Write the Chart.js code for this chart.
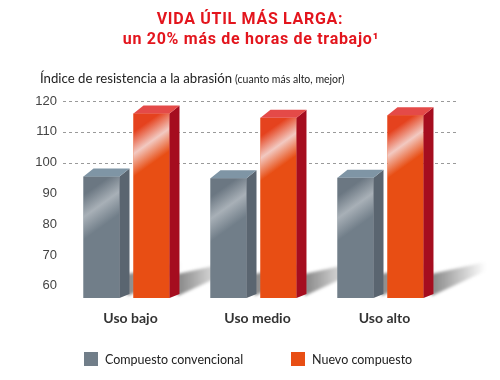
<!DOCTYPE html>
<html><head><meta charset="utf-8">
<script src="https://cdn.jsdelivr.net/npm/chart.js@4/dist/chart.umd.min.js"></script>
<style>html,body{margin:0;padding:0;background:#fff;}#wrap{width:500px;height:380px;position:relative}</style>
</head><body><div id="wrap"><canvas id="c" width="500" height="380"></canvas></div>
<script>
const categories = ['Uso bajo', 'Uso medio', 'Uso alto'];
const seriesNames = ['Compuesto convencional', 'Nuevo compuesto'];
const conventional = [95.5, 94.9, 95.1];
const newCompound = [116.0, 114.6, 115.4];
const yTicks = [60, 70, 80, 90, 100, 110, 120];
const gridValues = [100, 110, 120];
const titleLines = ['VIDA ÚTIL MÁS LARGA:', 'un 20% más de horas de trabajo¹'];
const axisTitle = 'Índice de resistencia a la abrasión';
const axisSubtitle = '(cuanto más alto, mejor)';

const styles = [
  {front: '#717e89', dark: '#6b7782', light: '#a8b0b7', side: '#5a6570', top: '#7f95a5'},
  {front: '#e84e14', dark: '#e5421e', light: '#f2c9c1', side: '#a50d1f', top: '#e44a48'}
];
const DX = 10, DY = -8;

const deco = {
  id: 'deco',
  beforeDatasetsDraw(chart) {
    const ctx = chart.ctx, y = chart.scales.y, a = chart.chartArea;
    ctx.save();
    ctx.strokeStyle = '#9a9a9a'; ctx.lineWidth = 1; ctx.setLineDash([3, 3]);
    gridValues.forEach(v => {
      const py = Math.round(y.getPixelForValue(v)) + 0.5;
      ctx.beginPath(); ctx.moveTo(a.left, py); ctx.lineTo(a.right + 15, py); ctx.stroke();
    });
    ctx.setLineDash([]);
    ctx.filter = 'blur(1.5px)';
    chart.data.datasets.forEach((ds, di) => {
      chart.getDatasetMeta(di).data.forEach(el => {
        const R = el.x + el.width / 2 + DX, b = Math.min(el.base, a.bottom);
        const g = ctx.createLinearGradient(R, 0, R + 52, 0);
        g.addColorStop(0, 'rgba(60,60,60,0.6)');
        g.addColorStop(1, 'rgba(60,60,60,0)');
        ctx.fillStyle = g;
        ctx.beginPath();
        ctx.moveTo(R - 2, b - 2); ctx.lineTo(R - 2, b - 24);
        ctx.lineTo(R + 52, b - 36); ctx.lineTo(R + 52, b - 27);
        ctx.closePath(); ctx.fill();
      });
    });
    ctx.filter = 'none';
    ctx.restore();
  },
  afterDatasetsDraw(chart) {
    const ctx = chart.ctx, a = chart.chartArea;
    ctx.save();
    chart.data.datasets.forEach((ds, di) => {
      const s = styles[di];
      chart.getDatasetMeta(di).data.forEach(el => {
        const L = el.x - el.width / 2, R = el.x + el.width / 2, T = el.y, B = Math.min(el.base, a.bottom);
        const g = ctx.createLinearGradient(L, T, L + 40, T + 56);
        g.addColorStop(0, s.dark);
        g.addColorStop(0.22, s.dark);
        g.addColorStop(0.48, s.light);
        g.addColorStop(0.75, s.front);
        g.addColorStop(1, s.front);
        ctx.fillStyle = g;
        ctx.fillRect(L, T, R - L, B - T);
        ctx.fillStyle = s.side;
        ctx.beginPath();
        ctx.moveTo(R, T); ctx.lineTo(R + DX, T + DY); ctx.lineTo(R + DX, B - 4); ctx.lineTo(R, B);
        ctx.closePath(); ctx.fill();
        ctx.fillStyle = s.top;
        ctx.beginPath();
        ctx.moveTo(L, T); ctx.lineTo(L + DX, T + DY); ctx.lineTo(R + DX, T + DY); ctx.lineTo(R, T);
        ctx.closePath(); ctx.fill();
      });
    });
    ctx.restore();
  },
  afterDraw(chart) {
    const ctx = chart.ctx;
    ctx.save();
    ctx.fillStyle = '#e3151d';
    ctx.textAlign = 'center'; ctx.textBaseline = 'alphabetic';
    ctx.font = 'bold 16px Roboto';
    ctx.letterSpacing = '0.7px';
    ctx.fillText(titleLines[0], 250, 24);
    ctx.fillText(titleLines[1], 251, 44);
    ctx.letterSpacing = '0px';
    ctx.textAlign = 'left';
    ctx.fillStyle = '#222';
    ctx.font = '13.2px Lato';
    ctx.fillText(axisTitle, 40, 83);
    const w = ctx.measureText(axisTitle).width;
    ctx.font = '10.5px Lato';
    ctx.fillText(axisSubtitle, 40 + w + 3, 83);
    const lx = [84, 291];
    ctx.font = '12.5px Lato'; ctx.textBaseline = 'middle';
    chart.data.datasets.forEach((ds, i) => {
      ctx.fillStyle = styles[i].front;
      ctx.fillRect(lx[i], 352, 14, 14);
      ctx.fillStyle = '#222';
      ctx.fillText(ds.label, lx[i] + 21, 360);
    });
    ctx.restore();
  }
};

new Chart(document.getElementById('c'), {
  type: 'bar',
  data: {
    labels: categories,
    datasets: [
      {label: seriesNames[0], data: conventional, backgroundColor: styles[0].front, borderWidth: 0, categoryPercentage: 0.787, barPercentage: 0.72},
      {label: seriesNames[1], data: newCompound, backgroundColor: styles[1].front, borderWidth: 0, categoryPercentage: 0.787, barPercentage: 0.72}
    ]
  },
  options: {
    responsive: false, animation: false, devicePixelRatio: 1,
    layout: {padding: {left: 0, right: 56, top: 95, bottom: 0}},
    scales: {
      x: {
        grid: {display: false, drawTicks: false}, border: {display: false},
        ticks: {font: {family: 'Lato', weight: 'bold', size: 14}, color: '#333', padding: 12, labelOffset: 4},
        afterFit: s => { s.height = 82; }
      },
      y: {
        min: 56, max: 122, beginAtZero: false,
        grid: {display: false, drawTicks: false}, border: {display: false},
        afterBuildTicks: s => { s.ticks = yTicks.map(v => ({value: v})); },
        ticks: {font: {family: 'Liberation Sans', size: 13}, color: '#444', padding: 6},
        afterFit: s => { s.width = 63; }
      }
    },
    plugins: {legend: {display: false}, title: {display: false}, tooltip: {enabled: false}}
  },
  plugins: [deco]
});
</script></body></html>
